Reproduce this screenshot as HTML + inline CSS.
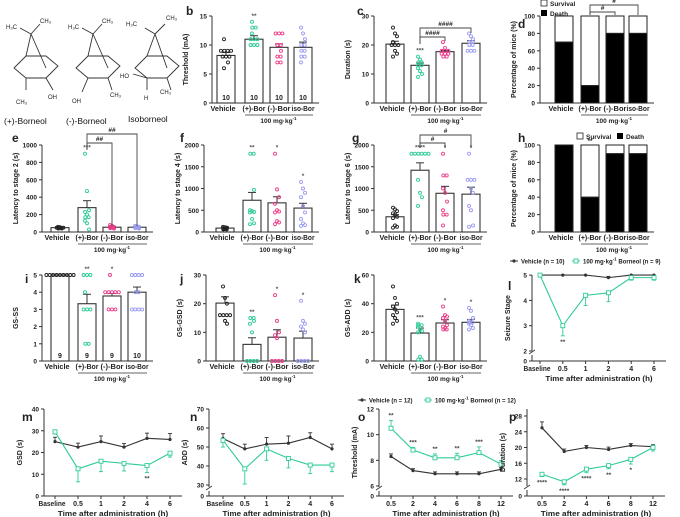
<!DOCTYPE html>
<html><head><meta charset="utf-8">
<style>
html,body{margin:0;padding:0;background:#fff;}
svg{display:block;font-family:"Liberation Sans",Arial,sans-serif;}
text{font-family:"Liberation Sans",Arial,sans-serif;}
</style></head>
<body>
<svg id="fig" width="680" height="517" viewBox="0 0 680 517" xmlns="http://www.w3.org/2000/svg">
  <g stroke="#333" stroke-width="0.9" fill="none">
    <g transform="translate(6,6)">
      <path d="M8,62 L20,50 L40,50 L52,60 L40,72 L20,72 Z M25,28 L20,50 M25,28 L40,62 M25,28 L14,22 M25,28 L34,18 M20,72 L20,84 M40,72 L47,84"/>
    </g>
    <g transform="translate(68,6)">
      <path d="M8,62 L20,50 L40,50 L52,60 L40,72 L20,72 Z M25,28 L20,50 M25,28 L40,62 M25,28 L14,22 M25,28 L34,18 M40,72 L44,84 M20,72 L14,86"/>
    </g>
    <g transform="translate(125,4)">
      <path d="M10,64 L22,52 L42,52 L54,62 L42,74 L22,74 Z M30,30 L22,52 M30,30 L42,64 M30,30 L20,24 M30,30 L40,20 M22,74 L8,70 M22,74 L22,86 M42,74 L46,86"/>
    </g>
  </g>
  <g font-size="6" fill="#222">
    <text x="6" y="29">H₃C</text>
    <text x="40" y="23">CH₃</text>
    <text x="16" y="104">CH₃</text>
    <text x="48" y="99">OH</text>
    <text x="68" y="29">H₃C</text>
    <text x="102" y="23">CH₃</text>
    <text x="72" y="103">OH</text>
    <text x="110" y="97">CH₃</text>
    <text x="126" y="26">H₃C</text>
    <text x="166" y="20">CH₃</text>
    <text x="120" y="78">HO</text>
    <text x="144" y="100">H</text>
    <text x="160" y="94">CH₃</text>
  </g>
  <g font-size="8.5" fill="#111">
    <text x="4" y="124">(+)-Borneol</text>
    <text x="66" y="124">(-)-Borneol</text>
    <text x="128" y="122">Isoborneol</text>
  </g>
</svg>
<script>
const NS="http://www.w3.org/2000/svg";
const svg=document.getElementById('fig');
function mk(tag,attrs,name,parent){
  const e=document.createElementNS(NS,tag);
  for(const k in attrs) e.setAttribute(k,attrs[k]);
  
  
  (parent||svg).appendChild(e);
  return e;
}
function txt(x,y,s,name,opt){
  opt=opt||{};
  const t=mk('text',{x:x,y:y,'font-size':opt.size||7.5,'text-anchor':opt.anchor||'middle','font-weight':opt.weight||'bold',fill:opt.fill||'#222'},name,opt.parent);
  if(opt.len){t.setAttribute('textLength',opt.len);t.setAttribute('lengthAdjust','spacingAndGlyphs');}
  if(opt.rot) t.setAttribute('transform','rotate(-90 '+x+' '+y+')');
  t.textContent=s;
  return t;
}
function line(x1,y1,x2,y2,name,col,w){
  return mk('line',{x1:x1,y1:y1,x2:x2,y2:y2,stroke:col||'#333','stroke-width':w||1},name);
}

/* ---------- data ---------- */
const groups=["Vehicle","(+)-Bor","(-)-Bor","iso-Bor"];
const colors=["#222","#2ecc96","#ee3d8a","#9b9bf2"];

const bMeans=[8.2,11.0,9.6,9.6];
const bSems=[0.5,0.6,0.6,0.9];
const bPts=[[11,9,9,9,9,8,8,8,7,6],[14,13,13,12,11,11,11,10,10,10],[12,12,12,10,10,9,8,8,7,7],[13,12,11,10,10,9,9,8,8,7]];
const bN=["10","10","10","10"];
const bStars=["","**","",""];

const cMeans=[20.3,13.0,17.7,20.6];
const cSems=[1.0,0.8,0.4,0.9];
const cPts=[[26,24,23,21,20,20,20,18,17,16],[16,15,14,14,13,13,12,11,10,9],[21,19,18,18,18,17,17,17,16,16],[24,23,22,21,21,20,20,18,18,18]];
const cStars=["","***","",""];

const dDeath=[70,20,80,80];
const hDeath=[100,40,90,90];
const hStars=["","**","",""];

const eMeans=[50,280,55,55];
const eSems=[6,80,8,8];
const ePts=[[60,55,50,50,48,45,45,40,40,50],[900,470,250,230,200,170,130,100,30,170],[80,70,60,55,50,50,45,45,40,60],[70,65,60,55,55,50,45,45,40,50]];
const eStars=["","***","",""];

const fMeans=[90,730,670,550];
const fSems=[10,180,140,110];
const fPts=[[120,110,100,90,90,80,80,70,60,60],[1800,1800,970,500,480,460,450,300,200,180],[1800,980,800,650,500,470,450,250,220,180],[1150,1000,900,800,600,450,300,200,160,140]];
const fStars=["","**","*","*"];

const gMeans=[350,1420,890,870];
const gSems=[50,170,160,160];
const gPts=[[560,520,480,430,400,350,320,150,120,100],[1800,1800,1800,1800,1800,1800,1200,900,800,600],[1800,1300,1300,1000,900,700,500,400,400,150],[1800,1200,1200,1200,1000,900,600,500,150,120]];
const gStars=["","****","*","*"];

const iMeans=[5,3.33,3.78,4.0];
const iSems=[0,0.55,0.15,0.3];
const iPts=[[5,5,5,5,5,5,5,5,5],[5,5,5,4,3,3,3,1,1],[5,4,4,4,4,4,3,3,3],[5,5,5,5,4,4,3,3,3,3]];
const iN=["9","9","9","10"];
const iStars=["","**","*",""];

const jMeans=[20.2,5.8,8.3,8.0];
const jSems=[2.2,2.3,2.6,2.4];
const jPts=[[26,22,20,16,16,16,16,14,13],[15,15,14,13,10,0,0,0,0],[23,14,10,9,8,0,0,0,0],[21,14,13,12,11,10,0,0,0,0]];
const jStars=["","**","*","*"];

const kMeans=[36,19.5,26.5,27];
const kSems=[3,3.5,2.3,2];
const kPts=[[52,44,40,38,36,34,32,30,28,26],[26,25,25,24,22,21,20,3,1,1],[38,32,31,30,28,25,24,23,22,22],[37,35,30,28,27,27,26,25,23,22]];
const kStars=["","***","*","*"];

const timeA=["Baseline","0.5","1","2","4","6"];
const timeB=["0.5","2","4","6","8","12"];
const lVeh=[5,5,5,4.9,5,5];
const lBor=[5,3,4.2,4.3,4.9,4.9];
const lBorSem=[0,0.4,0.4,0.35,0.1,0.1];
const lVehSem=[0,0,0,0.05,0,0];
const lStars=["","**","","","",""];

const mVeh=[25,22.5,25,22.5,26.5,26];
const mVehSem=[2,1.8,2.6,1.6,2.4,2.7];
const mBor=[29.5,12.5,16,15,14,19.7];
const mBorSem=[1,6,4.8,3.5,3.2,1.8];
const mStars=["","","","","**",""];

const nVeh=[54.5,49,51.5,52,55,49];
const nVehSem=[2.5,2.5,3.5,3.8,2.5,2.5];
const nBor=[53.5,38.5,49,44,40.5,40.5];
const nBorSem=[3.5,8,6,5,4.5,3.5];
const nStars=["","","","","",""];

const oVeh=[8.3,7.2,6.95,6.95,6.95,7.3];
const oVehSem=[0.2,0.15,0.15,0.15,0.15,0.15];
const oBor=[10.5,8.8,8.2,8.2,8.6,7.7];
const oBorSem=[0.6,0.2,0.3,0.35,0.45,0.3];
const oStars=["**","***","**","**","***",""];

const pVeh=[25,19,20,19.5,20.5,20.2];
const pVehSem=[1.5,0.6,0.5,0.6,0.5,0.5];
const pBor=[13.2,11.3,14.5,15.4,17,20];
const pBorSem=[0.6,0.8,0.9,0.8,1.2,0.9];
const pStars=["****","****","****","**","*",""];

/* ---------- bar panel ---------- */
function barPanel(p){
  const H=p.bottom-p.top;
  const y=v=>p.bottom-v/p.ymax*H;
  const xr=p.bars[3]+16;
  line(p.x0,p.top,p.x0,p.bottom,p.id+'-y-axis');
  line(p.x0,p.bottom,xr,p.bottom,p.id+'-x-axis');
  p.ticks.forEach(t=>{
    line(p.x0-3,y(t),p.x0,y(t),p.id+'-y-tick');
    txt(p.x0-5,y(t)+2.5,String(t),p.id+'-y-tick-label',{anchor:'end',size:6.5});
  });
  txt(p.x0-24,(p.top+p.bottom)/2,p.ytitle,p.id+'-y-axis-title',{rot:true,size:7});
  for(let g=0;g<4;g++){
    const cx=p.bars[g];
    if(p.death){
      mk('rect',{x:cx-9,y:y(100),width:18,height:y(p.death[g])-y(100),fill:'#fff',stroke:'#222','stroke-width':1},p.id+'-survival-bar-'+g);
      mk('rect',{x:cx-9,y:y(p.death[g]),width:18,height:p.bottom-y(p.death[g]),fill:'#000',stroke:'#222','stroke-width':1},p.id+'-death-bar-'+g);
    } else {
      mk('rect',{x:cx-9,y:y(p.means[g]),width:18,height:p.bottom-y(p.means[g]),fill:'#fff',stroke:'#333','stroke-width':1.1},p.id+'-bar-'+g);
      if(p.sems[g]>0){
        const ye=y(p.means[g]+p.sems[g]);
        line(cx,y(p.means[g]),cx,ye,p.id+'-error-bar-'+g,'#333',1);
        line(cx-4,ye,cx+4,ye,p.id+'-error-cap-'+g,'#333',1);
      }
      const pts=p.pts[g];
      const seen={};
      pts.forEach((v,i)=>{
        const k=v; seen[k]=(seen[k]||0)+1;
        const cnt=pts.filter(u=>u===v).length;
        const idx=seen[k]-1;
        const off=cnt>1?(idx-(cnt-1)/2)*3.4:((i%3)-1)*2;
        mk('circle',{cx:cx+off,cy:y(v),r:1.5,fill:'none',stroke:colors[g],'stroke-width':0.9},p.id+'-point-'+g);
      });
      if(p.stars&&p.stars[g]){
        const mx=Math.max(...pts);
        txt(cx,y(mx)-4,p.stars[g],p.id+'-significance-'+g,{size:6.5,fill:'#555'});
      }
    }
    if(p.stars&&p.death&&p.stars[g]) txt(cx,y(100)-2,p.stars[g],p.id+'-significance-'+g,{size:6.5});
    if(p.nlab) txt(cx,p.bottom-3,p.nlab[g],p.id+'-n-label-'+g,{size:7});
    txt(g===0?cx-3:cx,p.bottom+8,groups[g],p.id+'-x-label-'+g,{size:7,len:g===0?25:23});
  }
  line(p.bars[1]-9,p.bottom+12,p.bars[3]+10,p.bottom+12,p.id+'-dose-bracket','#333',0.8);
  const dl=txt((p.bars[1]+p.bars[3])/2,p.bottom+20,'100 mg·kg',p.id+'-dose-label',{size:6.5});
  const sup=document.createElementNS(NS,'tspan');
  sup.setAttribute('dy','-3');sup.setAttribute('font-size','4.5');sup.textContent='-1';
  dl.appendChild(sup);
  txt(p.lx,p.ly,p.letter,p.id+'-panel-letter',{size:12,anchor:'start'});
  (p.brackets||[]).forEach((b,i)=>{
    const x1=p.bars[b[0]],x2=p.bars[b[1]];
    mk('path',{d:'M'+x1+','+(b[3])+' L'+x1+','+b[2]+' L'+x2+','+b[2]+' L'+x2+','+(b[4]),fill:'none',stroke:'#444','stroke-width':0.9},p.id+'-comparison-bracket-'+i);
    txt((x1+x2)/2,b[2]-2,b[5],p.id+'-comparison-label-'+i,{size:6.5});
  });
}

barPanel({id:'panel-b',letter:'b',lx:186,ly:15,x0:212,bars:[226,254,279,303],top:16,bottom:103,ymax:15,ticks:[0,5,10,15],means:bMeans,sems:bSems,pts:bPts,nlab:bN,stars:bStars,ytitle:'Threshold (mA)'});
barPanel({id:'panel-c',letter:'c',lx:357,ly:15,x0:374,bars:[395,420,445,471],top:16,bottom:103,ymax:30,ticks:[0,10,20,30],means:cMeans,sems:cSems,pts:cPts,stars:cStars,ytitle:'Duration (s)',
  brackets:[[1,2,37,44,41,'####'],[1,3,28,44,33,'####']]});
barPanel({id:'panel-d',letter:'d',lx:518,ly:28,x0:540,bars:[564,590,615,638],top:16,bottom:103,ymax:100,ticks:[0,20,40,60,80,100],death:dDeath,ytitle:'Percentage of mice (%)',
  brackets:[[1,2,12,15,15,'#'],[1,3,5,15,15,'#']]});
barPanel({id:'panel-e',letter:'e',lx:12,ly:142,x0:42,bars:[60,87,112,137],top:145,bottom:232,ymax:1000,ticks:[0,200,400,600,800,1000],means:eMeans,sems:eSems,pts:ePts,stars:eStars,ytitle:'Latency to stage 2 (s)',
  brackets:[[1,2,143,150,226,'##'],[1,3,134,150,226,'##']]});
barPanel({id:'panel-f',letter:'f',lx:180,ly:142,x0:204,bars:[225,252,277,303],top:145,bottom:232,ymax:2000,ticks:[0,500,1000,1500,2000],means:fMeans,sems:fSems,pts:fPts,stars:fStars,ytitle:'Latency to stage 4 (s)'});
barPanel({id:'panel-g',letter:'g',lx:352,ly:142,x0:374,bars:[395,420,445,471],top:145,bottom:232,ymax:2000,ticks:[0,500,1000,1500,2000],means:gMeans,sems:gSems,pts:gPts,stars:gStars,ytitle:'Latency to stage 6 (s)',
  brackets:[[1,2,143,148,148,'#'],[1,3,135,148,148,'#']]});
barPanel({id:'panel-h',letter:'h',lx:518,ly:142,x0:540,bars:[564,590,615,638],top:145,bottom:232,ymax:100,ticks:[0,20,40,60,80,100],death:hDeath,stars:hStars,ytitle:'Percentage of mice (%)'});
barPanel({id:'panel-i',letter:'i',lx:25,ly:283,x0:42,bars:[60,87,112,137],top:275,bottom:361,ymax:5,ticks:[0,1,2,3,4,5],means:iMeans,sems:iSems,pts:iPts,nlab:iN,stars:iStars,ytitle:'GS-SS'});
barPanel({id:'panel-j',letter:'j',lx:180,ly:283,x0:206,bars:[225,252,277,303],top:275,bottom:361,ymax:30,ticks:[0,10,20,30],means:jMeans,sems:jSems,pts:jPts,stars:jStars,ytitle:'GS-GSD (s)'});
barPanel({id:'panel-k',letter:'k',lx:354,ly:283,x0:374,bars:[395,420,445,471],top:275,bottom:361,ymax:60,ticks:[0,20,40,60],means:kMeans,sems:kSems,pts:kPts,stars:kStars,ytitle:'GS-ADD (s)'});

/* legends for d and h */
mk('rect',{x:541,y:0,width:6,height:6,fill:'#fff',stroke:'#222','stroke-width':0.8},'legend-survival-swatch-d');
txt(550,6,'Survival','legend-survival-d',{anchor:'start',size:6.5});
mk('rect',{x:541,y:10,width:6,height:6,fill:'#000'},'legend-death-swatch-d');
txt(550,16,'Death','legend-death-d',{anchor:'start',size:6.5});
mk('rect',{x:577,y:133,width:6,height:6,fill:'#fff',stroke:'#222','stroke-width':0.8},'legend-survival-swatch-h');
txt(586,139,'Survival','legend-survival-h',{anchor:'start',size:6.5});
mk('rect',{x:617,y:133,width:6,height:6,fill:'#000'},'legend-death-swatch-h');
txt(626,139,'Death','legend-death-h',{anchor:'start',size:6.5});

/* ---------- line panel ---------- */
function linePanel(p){
  const y=p.y;
  const xs=p.cats.map((c,i)=>p.xStart+i*p.xStep);
  const xr=xs[xs.length-1]+12;
  line(p.x0,p.top,p.x0,p.bottom,p.id+'-y-axis');
  line(p.x0,p.bottom,xr,p.bottom,p.id+'-x-axis');
  if(p.brk){
    mk('rect',{x:p.x0-3,y:p.brk-3,width:6,height:4,fill:'#fff'},p.id+'-axis-break-gap');
    line(p.x0-3,p.brk,p.x0+3,p.brk-4,p.id+'-axis-break-mark','#333',0.8);
    line(p.x0,p.bottom,p.x0-3,p.bottom,p.id+'-y-tick');
    txt(p.x0-5,p.bottom+2.5,'0',p.id+'-y-tick-label',{anchor:'end',size:6.5});
  }
  p.ticks.forEach(t=>{
    line(p.x0-3,y(t),p.x0,y(t),p.id+'-y-tick');
    txt(p.x0-5,y(t)+2.5,String(t),p.id+'-y-tick-label',{anchor:'end',size:6.5});
  });
  txt(p.x0-22,(p.top+p.bottom)/2,p.ytitle,p.id+'-y-axis-title',{rot:true,size:7});
  p.cats.forEach((c,i)=>{
    line(xs[i],p.bottom,xs[i],p.bottom+3,p.id+'-x-tick');
    const o={size:7};
    if(c==='Baseline'){o.len=27;}
    txt(c==='Baseline'?xs[i]-3:xs[i],p.bottom+10,c,p.id+'-x-tick-label',o);
  });
  txt((p.x0+xr)/2,p.bottom+20,'Time after administration (h)',p.id+'-x-axis-title',{size:7,len:(xr-p.x0)*0.8});
  const series=[[p.veh,p.vehSem,'#333','vehicle'],[p.bor,p.borSem,'#2ecc96','borneol']];
  series.forEach(s=>{
    const vals=s[0],sems=s[1],col=s[2];
    mk('polyline',{points:vals.map((v,i)=>xs[i]+','+y(v)).join(' '),fill:'none',stroke:col,'stroke-width':1.1},p.id+'-'+s[3]+'-line');
    vals.forEach((v,i)=>{
      if(sems[i]>0){
        const down=(s[3]==='borneol'&&p.borDown);
        const yy=down?y(v-sems[i]):y(v+sems[i]);
        line(xs[i],y(v),xs[i],yy,p.id+'-'+s[3]+'-error-bar',col,0.9);
        line(xs[i]-2,yy,xs[i]+2,yy,p.id+'-'+s[3]+'-error-cap',col,0.9);
      }
      if(s[3]==='vehicle') mk('circle',{cx:xs[i],cy:y(v),r:1.6,fill:'#333'},p.id+'-vehicle-point');
      else mk('rect',{x:xs[i]-2,y:y(v)-2,width:4,height:4,fill:'#fff',stroke:col,'stroke-width':0.9},p.id+'-borneol-point');
    });
  });
  p.stars.forEach((s,i)=>{
    if(!s) return;
    const yy=p.starAbove? y(p.bor[i]+p.borSem[i])-3 : y(p.bor[i]-p.borSem[i])+8;
    txt(xs[i],yy,s,p.id+'-significance',{size:6.5,fill:'#444'});
  });
  txt(p.lx,p.ly,p.letter,p.id+'-panel-letter',{size:12,anchor:'start'});
}

linePanel({id:'panel-l',letter:'l',lx:508,ly:290,x0:532,top:275,bottom:361,brk:354,xStart:540,xStep:22.8,cats:timeA,
  y:v=>351-(v-2)*25.3,ticks:[2,3,4,5],veh:lVeh,vehSem:lVehSem,bor:lBor,borSem:lBorSem,borDown:true,stars:lStars,ytitle:'Seizure Stage'});
linePanel({id:'panel-m',letter:'m',lx:22,ly:421,x0:44,top:409,bottom:496,xStart:55,xStep:23,cats:timeA,
  y:v=>496-v/40*87,ticks:[0,10,20,30,40],veh:mVeh,vehSem:mVehSem,bor:mBor,borSem:mBorSem,borDown:true,stars:mStars,ytitle:'GSD (s)'});
linePanel({id:'panel-n',letter:'n',lx:190,ly:421,x0:209,top:409,bottom:496,brk:490,xStart:223,xStep:21.8,cats:timeA,
  y:v=>485-(v-30)/40*76,ticks:[30,40,50,60,70],veh:nVeh,vehSem:nVehSem,bor:nBor,borSem:nBorSem,borDown:true,stars:nStars,ytitle:'ADD (s)'});
linePanel({id:'panel-o',letter:'o',lx:358,ly:421,x0:379,top:409,bottom:496,brk:490,xStart:391,xStep:22,cats:timeB,
  y:v=>486-(v-6)/6*77,ticks:[6,8,10,12],veh:oVeh,vehSem:oVehSem,bor:oBor,borSem:oBorSem,borDown:false,starAbove:true,stars:oStars,ytitle:'Threshold (mA)'});
linePanel({id:'panel-p',letter:'p',lx:509,ly:421,x0:527,top:409,bottom:496,brk:489,xStart:542,xStep:22.2,cats:timeB,
  y:v=>479-(v-12)/16*63,ticks:[12,16,20,24,28],veh:pVeh,vehSem:pVehSem,bor:pBor,borSem:pBorSem,borDown:true,stars:pStars,ytitle:'Duration (s)'});

/* line legends */
function lineLegend(x,y,n1,n2,id,gap){
  line(x,y,x+8,y,id+'-vehicle-swatch-line','#333',1);
  mk('circle',{cx:x+4,cy:y,r:1.6,fill:'#333'},id+'-vehicle-swatch-marker');
  txt(x+11,y+2.3,'Vehicle (n = '+n1+')',id+'-vehicle-label',{anchor:'start',size:6});
  const x2=x+gap;
  line(x2,y,x2+8,y,id+'-borneol-swatch-line','#2ecc96',1);
  mk('rect',{x:x2+2,y:y-2,width:4,height:4,fill:'#fff',stroke:'#2ecc96','stroke-width':0.9},id+'-borneol-swatch-marker');
  const t=txt(x2+11,y+2.3,'100 mg·kg',id+'-borneol-label',{anchor:'start',size:6});
  const s1=document.createElementNS(NS,'tspan');s1.setAttribute('dy','-3');s1.setAttribute('font-size','4.5');s1.textContent='-1';t.appendChild(s1);
  const s2=document.createElementNS(NS,'tspan');s2.setAttribute('dy','3');s2.textContent=' Borneol (n = '+n2+')';t.appendChild(s2);
}
lineLegend(510,261,'10','9','legend-l',62);
lineLegend(358,400,'12','12','legend-op',66);
</script>
</body></html>
